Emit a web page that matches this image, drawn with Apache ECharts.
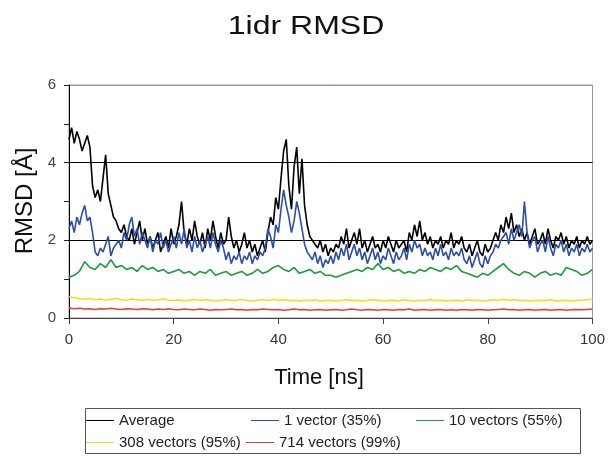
<!DOCTYPE html>
<html>
<head>
<meta charset="utf-8">
<script src="https://cdn.jsdelivr.net/npm/echarts@6/dist/echarts.min.js"></script>
<style>html,body{margin:0;padding:0;background:#fff}#c{width:608px;height:456px}</style>
</head>
<body>
<div id="c"></div>
<script>
// Time axis sampling (ns)
const fineStep = 0.5;   // average & 1 vector sampled every 0.5 ns
const coarseStep = 1;   // other series every 1 ns

const seriesNames = ['Average', '1 vector (35%)', '10 vectors (55%)', '308 vectors (95%)', '714 vectors (99%)'];
const xTicks = [0, 20, 40, 60, 80, 100];
const yTicks = [0, 2, 4, 6];

const average = [
4.6,4.9,4.5,4.8,4.6,4.3,4.5,4.7,4.4,3.4, 3.1,3.3,3.0,3.6,4.2,3.2,2.9,2.6,2.5,2.3,
2.2,2.4,2.1,2.0,2.3,1.9,2.2,2.5,2.0,2.3, 1.9,2.1,1.8,2.0,2.2,1.7,1.9,2.1,1.8,2.3,
1.9,2.1,2.4,3.0,2.2,1.9,2.3,2.0,2.5,2.1, 1.9,2.2,1.8,2.3,2.0,2.5,2.1,1.8,2.2,1.9,
2.0,2.6,2.1,1.8,2.0,1.7,1.9,2.2,1.8,2.0, 1.7,1.9,1.6,1.8,2.0,1.7,2.2,2.6,2.4,3.1,
2.8,3.6,4.3,4.6,3.4,2.8,3.9,4.4,3.2,4.1, 2.9,2.4,2.1,2.0,1.9,1.8,2.0,1.7,1.9,1.6,
1.8,1.7,1.9,1.8,2.1,1.9,2.3,1.8,2.0,2.2, 1.9,2.3,1.8,2.0,1.7,1.9,2.1,1.8,1.9,1.7,
2.0,1.8,2.1,1.9,1.7,2.0,1.8,1.9,2.0,1.7, 2.2,2.0,2.4,2.1,2.5,2.0,2.2,1.9,2.1,1.8,
2.0,1.9,2.1,1.8,2.0,1.9,2.2,1.8,2.0,1.9, 2.1,1.8,1.7,1.9,1.6,1.8,2.0,1.7,1.6,1.9,
1.7,1.8,2.0,2.2,2.0,2.4,2.2,2.6,2.3,2.7, 2.2,2.4,2.1,2.3,2.0,2.2,1.9,2.1,2.3,1.9,
2.0,2.2,1.9,2.3,2.0,1.8,2.1,2.0,2.2,1.9, 2.1,1.8,2.0,1.9,2.1,1.8,2.0,1.9,2.1,1.9,
2.0
];

const vector1 = [
2.3,2.5,2.2,2.6,2.4,2.7,2.9,2.5,2.6,2.2, 1.7,1.6,1.8,1.7,1.9,2.1,1.6,1.8,1.9,2.0,
1.8,2.2,2.0,2.4,2.6,2.1,2.3,1.9,2.2,2.0, 1.8,2.1,1.7,2.0,1.9,2.2,1.8,2.0,1.7,1.9,
2.1,1.8,2.2,1.9,2.3,1.8,2.0,1.7,2.1,1.8, 2.0,1.7,1.9,2.1,1.8,2.2,1.9,1.7,2.0,1.8,
1.5,1.7,1.4,1.6,1.5,1.7,1.4,1.6,1.5,1.7, 1.4,1.6,1.5,1.7,1.6,1.8,2.3,2.1,1.8,2.4,
2.2,2.8,3.3,2.9,2.6,2.2,2.5,3.0,2.7,2.3, 1.9,1.7,1.6,1.5,1.7,1.4,1.6,1.3,1.5,1.4,
1.6,1.4,1.7,1.5,1.8,1.6,1.9,1.5,1.7,1.9, 1.6,1.8,1.5,1.7,1.4,1.6,1.8,1.5,1.7,1.4,
1.6,1.5,1.8,1.6,1.4,1.7,1.5,1.6,1.8,1.5, 1.9,1.7,2.0,1.8,1.9,1.6,1.8,1.6,1.7,1.5,
1.8,1.6,1.9,1.6,1.7,1.5,1.8,1.6,1.7,1.6, 1.8,1.5,1.4,1.6,1.3,1.5,1.7,1.4,1.3,1.6,
1.4,1.6,1.7,1.9,1.8,2.0,2.1,2.2,1.9,2.3, 2.0,2.2,2.4,2.1,3.0,2.2,1.8,2.0,2.1,1.7,
1.9,2.0,1.7,2.1,1.8,1.6,1.9,1.8,2.0,1.7, 1.9,1.6,1.8,1.7,1.9,1.6,1.8,1.7,1.9,1.7,
1.8
];

const vectors10 = [
1.05,1.1,1.2,1.45,1.3,1.25,1.4,1.3,1.5,1.3,
1.35,1.25,1.3,1.2,1.35,1.25,1.3,1.2,1.25,1.15,
1.2,1.25,1.15,1.2,1.1,1.2,1.15,1.25,1.1,1.15,
1.2,1.1,1.15,1.2,1.1,1.15,1.25,1.15,1.2,1.3,
1.35,1.25,1.2,1.3,1.15,1.2,1.25,1.15,1.2,1.1,
1.1,1.05,1.1,1.15,1.2,1.25,1.2,1.3,1.25,1.4,
1.25,1.3,1.2,1.25,1.15,1.2,1.15,1.25,1.2,1.3,
1.25,1.2,1.3,1.25,1.35,1.2,1.15,1.1,1.05,1.15,
1.1,1.2,1.3,1.4,1.25,1.15,1.1,1.2,1.15,1.05,
1.15,1.2,1.1,1.15,1.1,1.3,1.25,1.2,1.1,1.15,1.25
];

const vectors308 = [
0.55,0.52,0.5,0.48,0.5,0.47,0.49,0.46,0.48,0.5,
0.47,0.46,0.49,0.47,0.45,0.48,0.46,0.47,0.49,0.46,
0.45,0.47,0.44,0.46,0.48,0.45,0.47,0.46,0.44,0.46,
0.47,0.45,0.46,0.48,0.45,0.44,0.46,0.47,0.45,0.48,
0.46,0.47,0.45,0.46,0.44,0.46,0.45,0.47,0.44,0.45,
0.46,0.44,0.45,0.47,0.45,0.46,0.44,0.45,0.47,0.46,
0.44,0.45,0.46,0.44,0.47,0.45,0.44,0.46,0.45,0.47,
0.45,0.46,0.44,0.45,0.46,0.44,0.47,0.45,0.46,0.44,
0.45,0.47,0.46,0.48,0.46,0.47,0.45,0.46,0.44,0.45,
0.46,0.45,0.47,0.44,0.45,0.46,0.44,0.45,0.46,0.47,0.48
];

const vectors714 = [
0.26,0.24,0.25,0.23,0.24,0.22,0.24,0.23,0.25,0.23,
0.22,0.24,0.23,0.22,0.24,0.23,0.21,0.23,0.22,0.24,
0.22,0.21,0.23,0.22,0.21,0.23,0.22,0.2,0.22,0.21,
0.22,0.23,0.21,0.22,0.2,0.22,0.21,0.23,0.22,0.21,
0.22,0.2,0.21,0.23,0.21,0.22,0.2,0.21,0.22,0.2,
0.21,0.22,0.2,0.21,0.23,0.21,0.2,0.22,0.21,0.2,
0.22,0.21,0.2,0.22,0.21,0.23,0.2,0.21,0.22,0.2,
0.21,0.22,0.2,0.21,0.2,0.22,0.21,0.2,0.22,0.21,
0.2,0.21,0.22,0.23,0.21,0.22,0.2,0.21,0.22,0.2,
0.21,0.22,0.2,0.21,0.22,0.2,0.21,0.22,0.21,0.22,0.23
];

function pairs(values, step) {
  return values.map((v, i) => [i * step, v]);
}

const FONT = '"Liberation Sans", Arial, sans-serif';
const colors = ['#000000', '#2b4ea8', '#1c9c40', '#f0e010', '#e0403a'];
const widths = [1.6, 1.6, 1.6, 1.5, 1.5];

const chart = echarts.init(document.getElementById('c'), null, { renderer: 'canvas' });

const legendCommon = {
  orient: 'horizontal', padding: 0, itemWidth: 28, itemHeight: 1, icon: 'rect',
  textStyle: { fontSize: 15, color: '#222', fontFamily: FONT }
};
const legendPos = [[86, 413], [251, 413], [416, 413], [86, 435], [246, 435]];

chart.setOption({
  animation: false,
  backgroundColor: '#fff',
  grid: { left: 69, right: 12, top: 85, bottom: 138, show: true, borderColor: '#999', borderWidth: 1, backgroundColor: 'transparent' },
  xAxis: {
    type: 'value', min: xTicks[0], max: xTicks[xTicks.length - 1], interval: 20,
    axisLine: { show: true, lineStyle: { color: '#444', width: 1 } },
    axisTick: { show: true, length: 6, lineStyle: { color: '#444' } },
    axisLabel: { fontSize: 15, color: '#333', margin: 14, fontFamily: FONT },
    splitLine: { show: false }
  },
  yAxis: {
    type: 'value', min: yTicks[0], max: yTicks[yTicks.length - 1], interval: 2,
    axisLine: { show: true, lineStyle: { color: '#000', width: 1 } },
    axisTick: { show: true, length: 5, lineStyle: { color: '#222' } },
    minorTick: { show: true, splitNumber: 2, length: 5, lineStyle: { color: '#222' } },
    axisLabel: { fontSize: 15, color: '#444', margin: 13, fontFamily: FONT },
    splitLine: { show: true, lineStyle: { color: ['#000', '#000', '#000', '#999'], width: 1 } }
  },
  legend: legendPos.map((p, i) => Object.assign({}, legendCommon, { data: [seriesNames[i]], left: p[0], top: p[1] })),
  graphic: [
    { type: 'text', x: 306, y: 27, scaleX: 1.28, style: { text: '1idr RMSD', font: '25px ' + FONT, fill: '#111', align: 'center', verticalAlign: 'middle' } },
    { type: 'text', x: 319, y: 378, style: { text: 'Time [ns]', font: '22px ' + FONT, fill: '#111', align: 'center', verticalAlign: 'middle' } },
    { type: 'text', x: 25, y: 201, rotation: Math.PI / 2, style: { text: 'RMSD [Å]', font: '24px ' + FONT, fill: '#111', align: 'center', verticalAlign: 'middle' } },
    { type: 'rect', shape: { x: 85.5, y: 408.5, width: 495, height: 45 }, style: { fill: 'none', stroke: '#555', lineWidth: 1 } }
  ],
  series: [
    { name: seriesNames[0], type: 'line', showSymbol: false, symbol: 'none', data: pairs(average, fineStep), lineStyle: { color: colors[0], width: widths[0] }, itemStyle: { color: colors[0] } },
    { name: seriesNames[1], type: 'line', showSymbol: false, symbol: 'none', data: pairs(vector1, fineStep), lineStyle: { color: colors[1], width: widths[1] }, itemStyle: { color: colors[1] } },
    { name: seriesNames[2], type: 'line', showSymbol: false, symbol: 'none', data: pairs(vectors10, coarseStep), lineStyle: { color: colors[2], width: widths[2] }, itemStyle: { color: colors[2] } },
    { name: seriesNames[3], type: 'line', showSymbol: false, symbol: 'none', data: pairs(vectors308, coarseStep), lineStyle: { color: colors[3], width: widths[3] }, itemStyle: { color: colors[3] } },
    { name: seriesNames[4], type: 'line', showSymbol: false, symbol: 'none', data: pairs(vectors714, coarseStep), lineStyle: { color: colors[4], width: widths[4] }, itemStyle: { color: colors[4] } }
  ]
});
</script>
</body>
</html>
